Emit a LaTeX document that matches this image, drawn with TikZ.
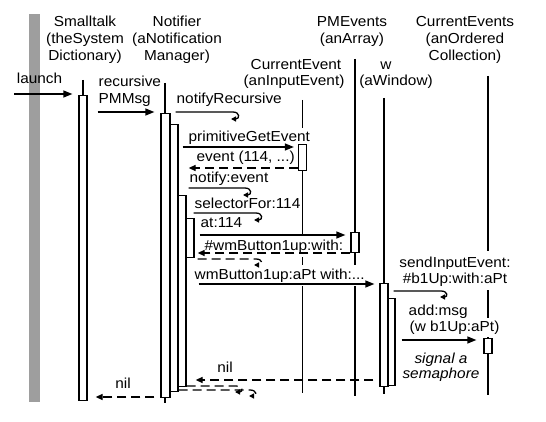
\documentclass[tikz,border=0pt]{standalone}
\usepackage{fontspec}
\setmainfont{Liberation Sans}[FakeStretch=1.06]
\usetikzlibrary{arrows.meta,calc}
\newcommand\dfont{\fontsize{14.5pt}{17pt}\selectfont}
\begin{document}
\begin{tikzpicture}[x=1pt,y=-1pt,
  every node/.style={font=\dfont},
  head/.style={anchor=base, inner sep=0pt},
  lab/.style={anchor=base west, fill=white, inner xsep=1.5pt, inner ysep=3.5pt},
  labc/.style={anchor=base, fill=white, inner xsep=1.5pt, inner ysep=3.5pt},
  life/.style={line width=1.3pt},
  act/.style={draw, line width=1.3pt, fill=white, inner sep=0pt, anchor=north, minimum width=8pt},
  msg/.style={line width=1.3pt, -{Triangle[length=9pt,width=7pt]}},
  ret/.style={line width=1.3pt, dash pattern=on 9pt off 5pt, -{Triangle[length=7pt,width=6pt]}},
  selfc/.style={line width=1.3pt, -{Triangle[length=5pt,width=5pt]}},
  selfr/.style={selfc, dash pattern=on 9pt off 5pt},
]
\useasboundingbox (0,0) rectangle (546,422);
% grey bar
\fill[black!38] (29,14) rectangle (40,402);

% headers
\node[head] (h1a) at (85,27) {Smalltalk};
\node[head] (h1b) at (85,44) {(theSystem};
\node[head] (h1c) at (85,61) {Dictionary)};
\node[head] (h2a) at (177,27) {Notifier};
\node[head] (h2b) at (177,44) {(aNotification};
\node[head] (h2c) at (177,61) {Manager)};
\node[head] (h3a) at (296,70) {CurrentEvent};
\node[head] (h3b) at (294,86) {(anInputEvent)};
\node[head] (h4a) at (352,27) {PMEvents};
\node[head] (h4b) at (352,44) {(anArray)};
\node[head] (h5a) at (386,70) {w};
\node[head] (h5b) at (396,86) {(aWindow)};
\node[head] (h6a) at (465,27) {CurrentEvents};
\node[head] (h6b) at (465,44) {(anOrdered};
\node[head] (h6c) at (465,61) {Collection)};

% lifelines
\coordinate (l1t) at (83,80);    \coordinate (l1b) at (83,400);
\coordinate (l2t) at (165,83);   \coordinate (l2b) at (165,403);
\coordinate (l3t) at (302.5,100);\coordinate (l3b) at (302.5,393);
\coordinate (l4t) at (355,59);   \coordinate (l4b) at (355,396);
\coordinate (l5t) at (384,98);   \coordinate (l5b) at (384,394);
\coordinate (l6t) at (488,76);   \coordinate (l6b) at (488,395);
\foreach \i in {1,...,6} {\draw[life] (l\i t) -- (l\i b);}

% message labels
\node[anchor=base, inner sep=1pt] (tlaunch) at (39.5,84) {launch};
\node[lab] (trec1) at (97,87) {recursive};
\node[lab] (trec2) at (97,104) {PMMsg};
\node[lab] (tnr) at (175,104) {notifyRecursive};
\node[lab] (tpge) at (187,142) {primitiveGetEvent};
\node[lab] (tev) at (195,162) {event (114, ...)};
\node[lab] (tne) at (188,183) {notify:event};
\node[lab] (tsf) at (193,208) {selectorFor:114};
\node[lab] (tat) at (199,228) {at:114};
\node[lab] (twb) at (203,250) {\#wmButton1up:with:};
\node[lab] (twa) at (193,279) {wmButton1up:aPt with:...};
\node[labc, inner ysep=5pt] (tsie1) at (455,267) {sendInputEvent:};
\node[labc] (tsie2) at (455,283) {\#b1Up:with:aPt};
\node[lab] (tadd1) at (407,315) {add:msg};
\node[lab, inner ysep=2.5pt] (tadd2) at (408,331) {(w b1Up:aPt)};
\node[anchor=base, font=\dfont\itshape] (tsig1) at (441,363) {signal a};
\node[anchor=base, font=\dfont\itshape] (tsig2) at (441,378) {semaphore};
\node[anchor=base] (tnil1) at (225,372) {nil};
\node[anchor=base] (tnil2) at (123,388) {nil};

% activation boxes
\node[act, minimum height=305pt] (sb) at (83,95) {};
\node[act, minimum width=9pt, minimum height=284pt] (nb1) at (165.5,113) {};
\node[act, minimum height=267pt] (nb2) at (174,124) {};
\node[act, minimum height=191pt] (nb3) at (182,195) {};
\node[act, minimum height=39pt] (nb4) at (190,218) {};
\node[act, minimum height=26pt] (cb) at (302.5,144) {};
\node[act, minimum height=20pt] (pb) at (355,232) {};
\node[act, minimum height=103pt] (wb1) at (384,283) {};
\node[act, minimum width=7pt, minimum height=87pt] (wb2) at (391.5,298) {};
\node[act, minimum height=15pt] (eb) at (488,338) {};

% messages
\coordinate (lstart) at (14,94);
\draw[msg] (lstart) -- ($(sb.west |- 0,94)+(-6,0)$);
\draw[msg] ($(sb.east |- 0,112)+(10,0)$) -- ($(nb1.west |- 0,112)+(-6,0)$);
\draw[selfc] ($(nb1.east |- 0,112)+(5,0)$) -- (233,112) .. controls (240,112) and (240,119) .. (231,119);
\draw[msg] ($(nb2.east |- 0,147)+(4,0)$) -- ($(cb.west |- 0,147)+(-4,0)$);
\draw[ret] (cb.west |- 0,168) -- ($(nb2.east |- 0,168)+(10,0)$);
\draw[selfc] ($(nb2.east |- 0,188)+(10,0)$) -- (245,188) .. controls (252,188) and (252,195) .. (243,195);
\draw[selfc] ($(nb3.east |- 0,213)+(7,0)$) -- (256,213) .. controls (263,213) and (263,220) .. (254,220);
\draw[msg] ($(nb4.east |- 0,235)+(5,0)$) -- ($(pb.west |- 0,235)+(-5,0)$);
\draw[ret] (pb.west |- 0,253) -- ($(nb4.east |- 0,253)+(3,0)$);
\draw[selfr] ($(nb4.east |- 0,259)+(3,0)$) -- (256,259) .. controls (263,259) and (263,265) .. (254,265);
\draw[msg] ($(nb3.east |- 0,284)+(12,0)$) -- ($(wb1.west |- 0,284)+(-5,0)$);
\draw[selfc] ($(wb1.east |- 0,291)+(5,0)$) -- (441,291) .. controls (448,291) and (448,297) .. (440,297);
\draw[msg] ($(wb2.east |- 0,340)+(6,0)$) -- ($(eb.west |- 0,340)+(-7,0)$);
\draw[ret] ($(wb1.west |- 0,380)+(-6,0)$) -- ($(nb3.east |- 0,380)+(9,0)$);
\draw[selfr] (nb3.east |- 0,386) -- (236,386) .. controls (243,386) and (243,392) .. (235,392);
\draw[selfr] (nb2.east |- 0,390) -- (250,390) .. controls (257,390) and (257,396) .. (249,396);
\draw[ret] ($(nb1.west |- 0,397)+(-6,0)$) -- ($(sb.east |- 0,397)+(8,0)$);
\end{tikzpicture}
\end{document}
